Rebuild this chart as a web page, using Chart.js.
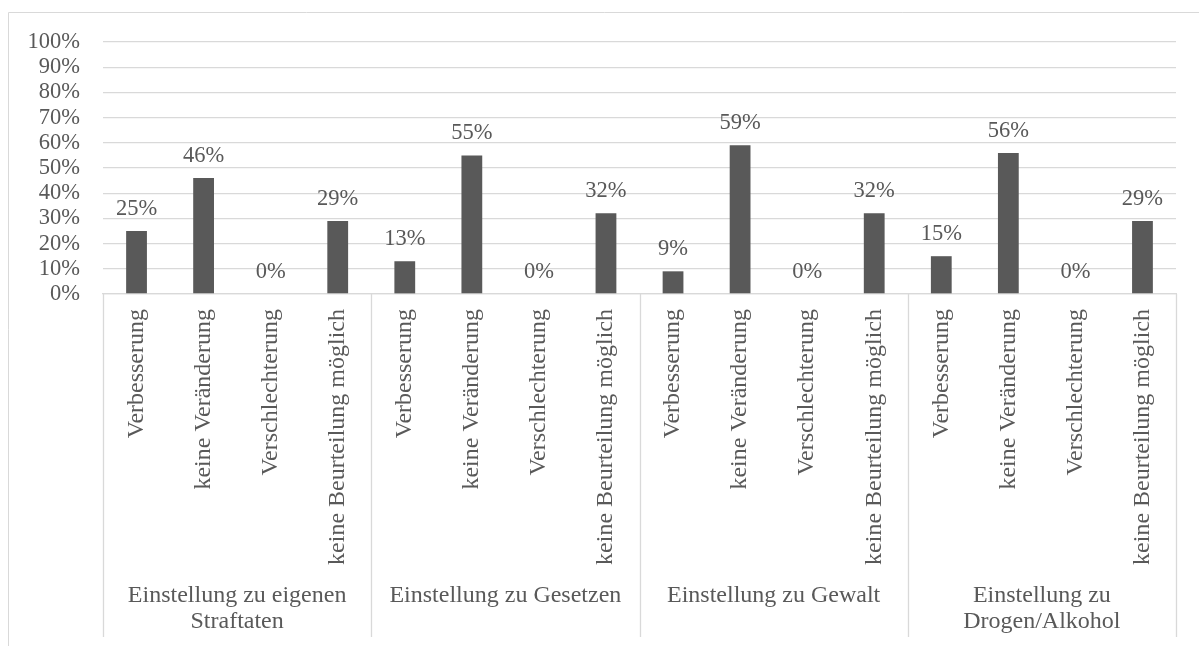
<!DOCTYPE html>
<html>
<head>
<meta charset="utf-8">
<script src="https://cdn.jsdelivr.net/npm/chart.js@4.4.1/dist/chart.umd.min.js"></script>
<style>
  html, body { margin: 0; padding: 0; background: #ffffff; }
  canvas { display: block; }
</style>
</head>
<body>
<canvas id="chart" width="1199" height="646"></canvas>
<script>
// Answer categories, repeated within each attitude group
const answers = ['Verbesserung', 'keine Veränderung', 'Verschlechterung', 'keine Beurteilung möglich'];

// Attitude groups (second axis level); arrays are line breaks
const groups = [
  ['Einstellung zu eigenen', 'Straftaten'],
  ['Einstellung zu Gesetzen'],
  ['Einstellung zu Gewalt'],
  ['Einstellung zu', 'Drogen/Alkohol']
];

// Shares in percent per group
const eigeneStraftaten = [25, 46, 0, 29];
const gesetze = [13, 55, 0, 32];
const gewalt = [9, 59, 0, 32];
const drogenAlkohol = [15, 56, 0, 29];

// Y axis tick values
const yTicks = [0, 10, 20, 30, 40, 50, 60, 70, 80, 90, 100];

const seriesByGroup = [eigeneStraftaten, gesetze, gewalt, drogenAlkohol];
const labels = [];
const values = [];
seriesByGroup.forEach(function (arr) {
  arr.forEach(function (v, i) { labels.push(answers[i]); values.push(v); });
});

const TEXT = '#595959';
const GRID = '#d9d9d9';
const FONT = "'Liberation Serif', 'DejaVu Serif', serif";

// Outer frame, group separators, group names and value labels
const decorations = {
  id: 'decorations',
  beforeDraw: function (chart) {
    const ctx = chart.ctx;
    ctx.save();
    ctx.strokeStyle = GRID;
    ctx.lineWidth = 1;
    ctx.beginPath();
    ctx.moveTo(1300, 12.5);
    ctx.lineTo(8.5, 12.5);
    ctx.lineTo(8.5, 700);
    ctx.stroke();
    ctx.restore();
  },
  afterDraw: function (chart) {
    const ctx = chart.ctx;
    const xs = chart.scales.x;
    const area = chart.chartArea;
    const half = (xs.getPixelForValue(1) - xs.getPixelForValue(0)) / 2;
    const per = answers.length;

    ctx.save();
    // separators between groups
    ctx.strokeStyle = GRID;
    ctx.lineWidth = 1.3;
    for (let g = 0; g <= groups.length; g++) {
      const x = g < groups.length
        ? xs.getPixelForValue(g * per) - half
        : xs.getPixelForValue(g * per - 1) + half;
      ctx.beginPath();
      ctx.moveTo(Math.round(x) + 0.5, area.bottom);
      ctx.lineTo(Math.round(x) + 0.5, 637);
      ctx.stroke();
    }

    // group names
    ctx.fillStyle = TEXT;
    ctx.font = '24px ' + FONT;
    ctx.textAlign = 'center';
    ctx.textBaseline = 'middle';
    groups.forEach(function (lines, g) {
      const cx = (xs.getPixelForValue(g * per) + xs.getPixelForValue(g * per + per - 1)) / 2;
      lines.forEach(function (t, i) {
        ctx.fillText(t, cx, 596 + i * 26);
      });
    });

    // value labels above the bars
    ctx.font = '22.5px ' + FONT;
    ctx.textBaseline = 'alphabetic';
    const meta = chart.getDatasetMeta(0);
    meta.data.forEach(function (bar, i) {
      ctx.fillText(values[i] + '%', bar.x, bar.y - 16);
    });
    ctx.restore();
  }
};

function draw() {
  new Chart(document.getElementById('chart'), {
    type: 'bar',
    data: {
      labels: labels,
      datasets: [{
        data: values,
        backgroundColor: '#595959',
        borderWidth: 0,
        barPercentage: 0.31,
        categoryPercentage: 1.0
      }]
    },
    options: {
      responsive: false,
      animation: false,
      events: [],
      layout: { padding: { left: 0, right: 23, top: 42, bottom: 0 } },
      plugins: {
        legend: { display: false },
        tooltip: { enabled: false }
      },
      scales: {
        x: {
          grid: { display: false, drawTicks: false },
          border: { display: true, color: GRID, width: 1.3 },
          ticks: {
            autoSkip: false,
            maxRotation: 90,
            minRotation: 90,
            padding: 15,
            color: TEXT,
            font: { family: FONT, size: 24 }
          },
          afterFit: function (s) { s.height = 352; }
        },
        y: {
          min: 0,
          max: 100,
          afterBuildTicks: function (s) { s.ticks = yTicks.map(function (v) { return { value: v }; }); },
          grid: { color: GRID, lineWidth: 1.3, drawTicks: false },
          border: { display: false },
          ticks: {
            autoSkip: false,
            padding: 23,
            color: TEXT,
            font: { family: FONT, size: 22.5, lineHeight: 1 },
            callback: function (v) { return v + '%'; }
          },
          afterFit: function (s) { s.width = 103; }
        }
      }
    },
    plugins: [decorations]
  });
}

if (document.fonts && document.fonts.load) {
  document.fonts.load("23px 'Liberation Serif'").then(draw, draw);
} else {
  draw();
}
</script>
</body>
</html>
